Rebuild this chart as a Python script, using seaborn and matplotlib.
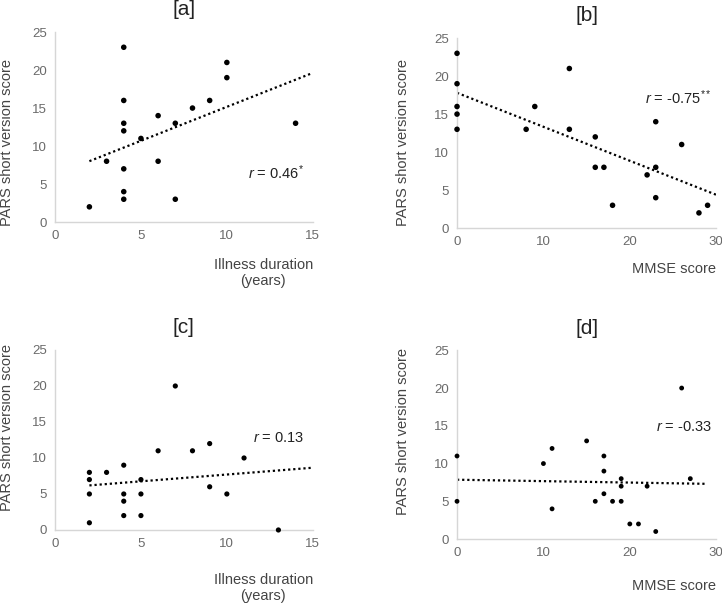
import numpy as np
import pandas as pd
import seaborn as sns
import matplotlib.pyplot as plt

# panel [a]: illness duration vs PARS
dur_a = [2, 3, 4, 4, 4, 4, 4, 4, 4, 5, 6, 6, 7, 7, 8, 9, 10, 10, 14]
pars_a = [2, 8, 23, 16, 13, 12, 7, 4, 3, 11, 14, 8, 13, 3, 15, 16, 21, 19, 13]
# panel [b]: MMSE vs PARS
mmse_b = [0, 0, 0, 0, 0, 8, 9, 13, 13, 16, 16, 17, 18, 22, 23, 23, 23, 26, 28, 29]
pars_b = [23, 19, 16, 15, 13, 13, 16, 21, 13, 12, 8, 8, 3, 7, 14, 8, 4, 11, 2, 3]
# panel [c]
dur_c = [2, 2, 2, 2, 3, 4, 4, 4, 4, 5, 5, 5, 6, 7, 8, 9, 9, 10, 11, 13]
pars_c = [8, 7, 5, 1, 8, 9, 5, 4, 2, 7, 5, 2, 11, 20, 11, 12, 6, 5, 10, 0]
# panel [d]
mmse_d = [0, 0, 10, 11, 11, 15, 16, 17, 17, 17, 18, 19, 19, 19, 20, 21, 22, 23, 26, 27]
pars_d = [11, 5, 10, 12, 4, 13, 5, 11, 9, 6, 5, 8, 7, 5, 2, 2, 7, 1, 20, 8]

r_labels = [r"$r$ = 0.46$^{*}$", r"$r$ = -0.75$^{**}$", r"$r$ = 0.13", r"$r$ = -0.33"]
titles = ["[a]", "[b]", "[c]", "[d]"]
xlabels = ["Illness duration\n(years)", "MMSE score", "Illness duration\n(years)", "MMSE score"]

sns.set_theme(style="white")
plt.rcParams['font.family'] = ['Liberation Sans', 'DejaVu Sans']
plt.rcParams['mathtext.fontset'] = 'custom'
plt.rcParams['mathtext.it'] = 'Liberation Sans:italic'
plt.rcParams['mathtext.rm'] = 'Liberation Sans'

fig = plt.figure(figsize=(7.22, 6.05), dpi=100)
positions = [[0.0762, 0.633, 0.357, 0.314],
             [0.633, 0.623, 0.359, 0.314],
             [0.0762, 0.124, 0.357, 0.2975],
             [0.633, 0.109, 0.359, 0.312]]
panels = [(dur_a, pars_a), (mmse_b, pars_b), (dur_c, pars_c), (mmse_d, pars_d)]
xmax = [15, 30, 15, 30]
fit_range = [(2, 15), (0, 30), (2, 15), (0, 28.7)]
r_pos = [(14.5, 6.5), (29.5, 17.2), (14.5, 12.8), (29.5, 14.8)]
ylab_pos = [(-0.16, 0.42), (-0.18, 0.45), (-0.16, 0.57), (-0.18, 0.57)]
xlab_y = [-0.19, -0.18, -0.24, -0.21]
dot_size = [16, 16, 14, 12]

for i, (x, y) in enumerate(panels):
    ax = fig.add_axes(positions[i])
    df = pd.DataFrame({'x': x, 'y': y})
    sns.scatterplot(data=df, x='x', y='y', ax=ax, color='black', s=dot_size[i],
                    edgecolor='none', clip_on=False, zorder=3)
    # least squares trendline
    k, b = np.polyfit(x, y, 1)
    xs = np.array(fit_range[i])
    ax.plot(xs, k * xs + b, color='black', linestyle=(0, (1, 1.3)), linewidth=1.6)
    ax.set_xlim(0, xmax[i])
    ax.set_ylim(0, 25)
    ax.set_xticks(np.arange(0, xmax[i] + 1, 5 if xmax[i] == 15 else 10))
    ax.set_yticks(range(0, 26, 5))
    ax.tick_params(axis='both', length=0, labelsize=9.5, labelcolor='#6a6a6a', pad=6)
    for s in ['top', 'right']:
        ax.spines[s].set_visible(False)
    for s in ['left', 'bottom']:
        ax.spines[s].set_color('#d6d6d6')
        ax.spines[s].set_linewidth(1)
    ax.set_title(titles[i], fontsize=15, color='#222222', pad=12)
    ax.set_xlabel(xlabels[i], fontsize=10.5, color='#444444', ha='right',
                  multialignment='center', linespacing=1.15)
    ax.xaxis.set_label_coords(1.0, xlab_y[i])
    ax.set_ylabel("PARS short version score", fontsize=10.5, color='#444444')
    ax.yaxis.set_label_coords(*ylab_pos[i])
    ax.text(r_pos[i][0], r_pos[i][1], r_labels[i], ha='right', va='center',
            fontsize=10.5, color='#222222')

fig.savefig('out.png', dpi=100)
